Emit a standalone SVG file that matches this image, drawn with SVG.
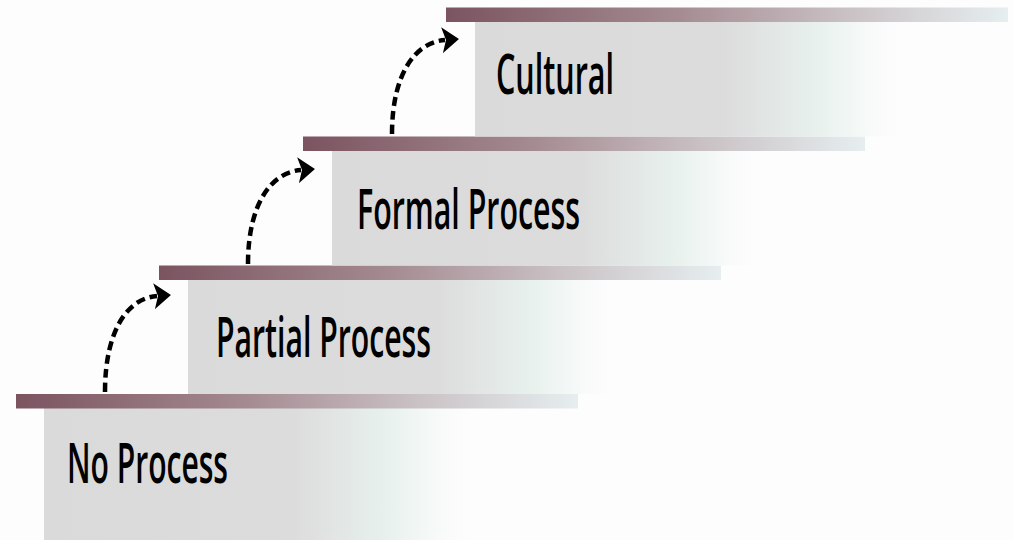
<svg xmlns="http://www.w3.org/2000/svg" width="1014" height="540" viewBox="0 0 1014 540">
  <defs>
    <linearGradient id="barGrad" x1="0" y1="0" x2="1" y2="0">
      <stop offset="0" stop-color="#7b5460"/>
      <stop offset="0.4" stop-color="#a38990"/>
      <stop offset="0.7" stop-color="#c8bfc2"/>
      <stop offset="1" stop-color="#e6eef0"/>
    </linearGradient>
    <linearGradient id="boxGrad" x1="0" y1="0" x2="1" y2="0">
      <stop offset="0" stop-color="#dadada"/>
      <stop offset="0.58" stop-color="#dcdcdc"/>
      <stop offset="0.8" stop-color="#e8f1ed"/>
      <stop offset="0.93" stop-color="#f9fbfa"/>
      <stop offset="1" stop-color="#fdfdfd"/>
    </linearGradient>
    <marker id="arrowhead" markerUnits="userSpaceOnUse" markerWidth="18" markerHeight="26" viewBox="0 0 18 26" refX="3" refY="13" orient="auto">
      <path d="M0,0 L17,13 L0,26 L4,13 z" fill="#000"/>
    </marker>
    <style>
      .bar { fill: url(#barGrad); }
      .box { fill: url(#boxGrad); }
      .label { font-family: "Open Sans", "Noto Sans", "Liberation Sans", sans-serif; font-weight: 600; font-size: 56px; fill: #000; }
      .conn { fill: none; stroke: #000; stroke-width: 4.5; stroke-dasharray: 9 5; marker-end: url(#arrowhead); }
    </style>
  </defs>
  <rect width="1014" height="540" fill="#fdfdfd"/>

  <g id="step-no-process">
    <rect class="box" x="44" y="408" width="430" height="132"/>
    <rect class="bar" x="16" y="394" width="562" height="14.5"/>
    <text class="label" x="67" y="483" textLength="161" lengthAdjust="spacingAndGlyphs">No Process</text>
  </g>

  <g id="step-partial-process">
    <rect class="box" x="188" y="280" width="430" height="114"/>
    <rect class="bar" x="159" y="265.5" width="562" height="14.5"/>
    <text class="label" x="216" y="357" textLength="215" lengthAdjust="spacingAndGlyphs">Partial Process</text>
  </g>

  <g id="step-formal-process">
    <rect class="box" x="332" y="151" width="430" height="114.5"/>
    <rect class="bar" x="303" y="136.5" width="562" height="14.5"/>
    <text class="label" x="357" y="229" textLength="223" lengthAdjust="spacingAndGlyphs">Formal Process</text>
  </g>

  <g id="step-cultural">
    <rect class="box" x="475" y="22" width="430" height="114.5"/>
    <rect class="bar" x="446" y="7.5" width="562" height="14.5"/>
    <text class="label" x="496" y="94" textLength="118" lengthAdjust="spacingAndGlyphs">Cultural</text>
  </g>

  <g id="connectors">
    <path class="conn" d="M105,392 C105,330 128,298 157,296"/>
    <path class="conn" d="M248,264 C248,203 272,172 301,170"/>
    <path class="conn" d="M392,134 C392,73 416,42 445,40"/>
  </g>
</svg>
